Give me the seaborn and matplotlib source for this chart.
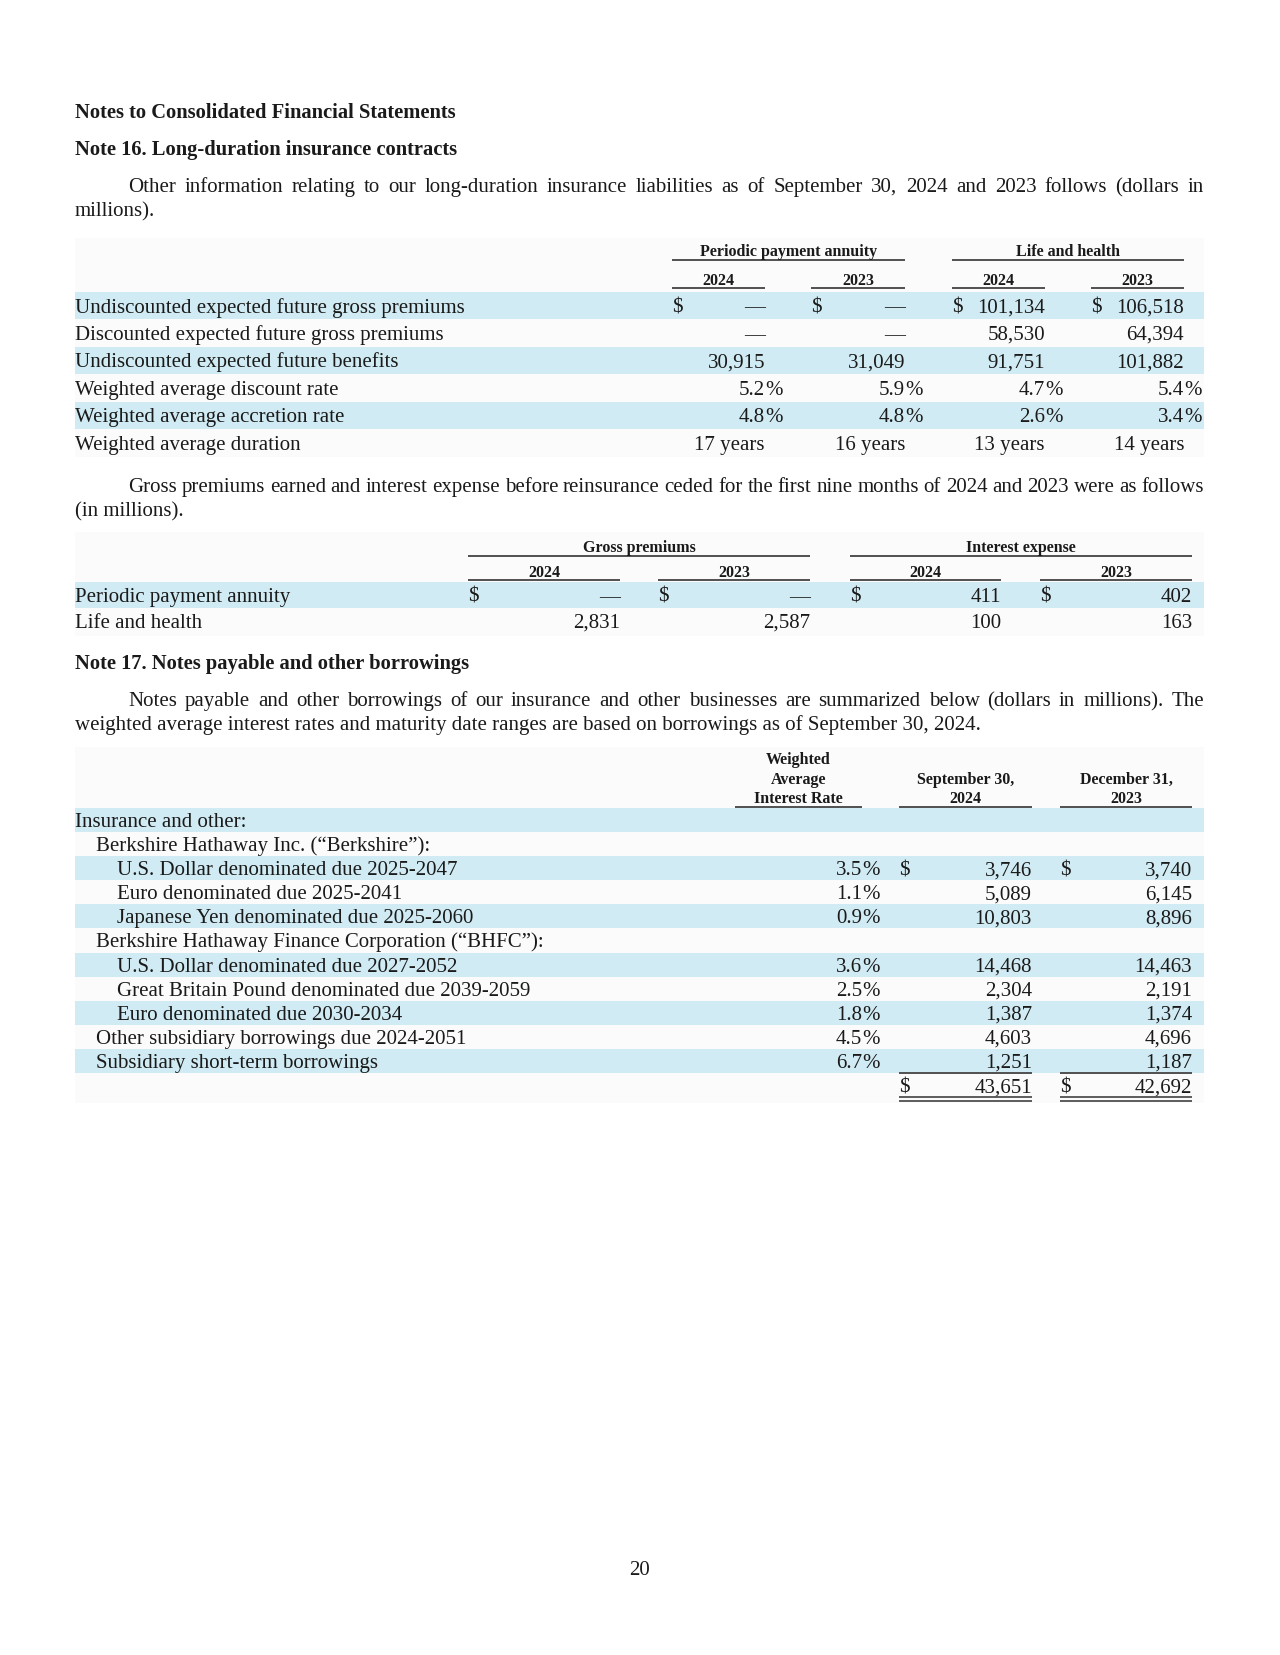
import matplotlib
matplotlib.use("Agg")
import matplotlib.pyplot as plt
import seaborn as sns

sns.set_theme(style="white")
plt.rcParams['font.family'] = ['Liberation Serif', 'DejaVu Serif']

# ---------------- data ----------------
page_title = "Notes to Consolidated Financial Statements"
note16_title = "Note 16. Long-duration insurance contracts"
para1 = ["Other information relating to our long-duration insurance liabilities as of September 30, 2024 and 2023 follows (dollars in",
         "millions)."]
t1_groups = ["Periodic payment annuity", "Life and health"]
t1_years = ["2024", "2023", "2024", "2023"]
t1_labels = ["Undiscounted expected future gross premiums",
             "Discounted expected future gross premiums",
             "Undiscounted expected future benefits",
             "Weighted average discount rate",
             "Weighted average accretion rate",
             "Weighted average duration"]
t1_ppa_2024 = ["—", "—", "30,915", "5.2%", "4.8%", "17 years"]
t1_ppa_2023 = ["—", "—", "31,049", "5.9%", "4.8%", "16 years"]
t1_lh_2024 = ["101,134", "58,530", "91,751", "4.7%", "2.6%", "13 years"]
t1_lh_2023 = ["106,518", "64,394", "101,882", "5.4%", "3.4%", "14 years"]
t1_dollar_rows = [0]

para2 = ["Gross premiums earned and interest expense before reinsurance ceded for the first nine months of 2024 and 2023 were as follows",
         "(in millions)."]
t2_groups = ["Gross premiums", "Interest expense"]
t2_years = ["2024", "2023", "2024", "2023"]
t2_labels = ["Periodic payment annuity", "Life and health"]
t2_gp_2024 = ["—", "2,831"]
t2_gp_2023 = ["—", "2,587"]
t2_ie_2024 = ["411", "100"]
t2_ie_2023 = ["402", "163"]
t2_dollar_rows = [0]

note17_title = "Note 17. Notes payable and other borrowings"
para3 = ["Notes payable and other borrowings of our insurance and other businesses are summarized below (dollars in millions). The",
         "weighted average interest rates and maturity date ranges are based on borrowings as of September 30, 2024."]
t3_headers = [["Weighted", "Average", "Interest Rate"], ["September 30,", "2024"], ["December 31,", "2023"]]
t3_labels = ["Insurance and other:",
             "Berkshire Hathaway Inc. (\u201cBerkshire\u201d):",
             "U.S. Dollar denominated due 2025-2047",
             "Euro denominated due 2025-2041",
             "Japanese Yen denominated due 2025-2060",
             "Berkshire Hathaway Finance Corporation (\u201cBHFC\u201d):",
             "U.S. Dollar denominated due 2027-2052",
             "Great Britain Pound denominated due 2039-2059",
             "Euro denominated due 2030-2034",
             "Other subsidiary borrowings due 2024-2051",
             "Subsidiary short-term borrowings",
             ""]
t3_indent = [0, 1, 2, 2, 2, 1, 2, 2, 2, 1, 1, 0]
t3_rate = ["", "", "3.5%", "1.1%", "0.9%", "", "3.6%", "2.5%", "1.8%", "4.5%", "6.7%", ""]
t3_sep2024 = ["", "", "3,746", "5,089", "10,803", "", "14,468", "2,304", "1,387", "4,603", "1,251", "43,651"]
t3_dec2023 = ["", "", "3,740", "6,145", "8,896", "", "14,463", "2,191", "1,374", "4,696", "1,187", "42,692"]
t3_dollar_rows = [2, 11]
page_number = "20"

# ---------------- styling ----------------
W, H = 1280, 1656
BAND = "#d0ebf3"
TBG = "#fbfbfb"
TXT = "#1a1a1a"
LINE = "#505050"
FS = 15.0      # body
FSB = 14.8     # bold titles
FSH = 11.5     # table headers
LEFT, RIGHT, INDENT = 75, 1204, 128

fig = plt.figure(figsize=(W / 100, H / 100), dpi=100)
ax = fig.add_axes([0, 0, 1, 1])
ax.set_xlim(0, W)
ax.set_ylim(H, 0)
ax.axis("off")
fig.patch.set_facecolor("white")
renderer = fig.canvas.get_renderer()


def txt(x, y, s, size=FS, weight="normal", ha="left", off=None):
    if off is None:
        off = size * 0.40
    ax.text(x, y + off, s, fontsize=size, fontweight=weight, ha=ha, va="baseline", color=TXT)


def width_of(s, size=FS, weight="normal"):
    t = ax.text(0, 0, s, fontsize=size, fontweight=weight)
    w = t.get_window_extent(renderer).width
    t.remove()
    return w


def justified(line, x0, x1, y, size=FS):
    words = line.split(" ")
    widths = [width_of(w, size) for w in words]
    gap = (x1 - x0 - sum(widths)) / (len(words) - 1)
    x = x0
    for w, wd in zip(words, widths):
        txt(x, y, w, size)
        x += wd + gap


def hline(x0, x1, y, lw=1.4):
    ax.plot([x0, x1], [y, y], color=LINE, lw=lw, solid_capstyle="butt")


def band(y0, y1, color=BAND):
    ax.add_patch(plt.Rectangle((LEFT, y0), RIGHT - LEFT, y1 - y0, color=color, lw=0, zorder=0))


def value(col, y, s, dollar=False):
    l, r = col
    if dollar:
        txt(l, y, "$")
    if s.endswith("%"):
        txt(r, y, s[:-1], ha="right")
        txt(r, y, "%")
    else:
        txt(r, y, s, ha="right")


# ---------------- header + note 16 ----------------
txt(LEFT, 112, page_title, FSB, "bold")
txt(LEFT, 149, note16_title, FSB, "bold")
justified(para1[0], INDENT, RIGHT, 186)
txt(LEFT, 210, para1[1])

# table 1
band(239, 458, TBG)
t1_cols = [(672, 765), (811, 905), (952, 1045), (1091, 1184)]
t1_groupspan = [(672, 905), (952, 1184)]
for g, (a, b) in zip(t1_groups, t1_groupspan):
    txt((a + b) / 2, 251, g, FSH, "bold", ha="center")
    hline(a, b, 261)
for yv, (a, b) in zip(t1_years, t1_cols):
    txt((a + b) / 2, 280, yv, FSH, "bold", ha="center")
    hline(a, b, 289)
t1_step = 27.5
t1_cols_data = [t1_ppa_2024, t1_ppa_2023, t1_lh_2024, t1_lh_2023]
for i, lab in enumerate(t1_labels):
    yc = 306.5 + i * t1_step
    if i % 2 == 0:
        band(yc - t1_step / 2, yc + t1_step / 2)
    txt(LEFT, yc, lab)
    for col, data in zip(t1_cols, t1_cols_data):
        value(col, yc, data[i], dollar=(i in t1_dollar_rows))

# ---------------- paragraph 2 + table 2 ----------------
justified(para2[0], INDENT, RIGHT, 486)
txt(LEFT, 510, para2[1])

band(533, 637, TBG)
t2_cols = [(468, 620), (658, 810), (850, 1001), (1040, 1192)]
t2_groupspan = [(468, 810), (850, 1192)]
for g, (a, b) in zip(t2_groups, t2_groupspan):
    txt((a + b) / 2, 547, g, FSH, "bold", ha="center")
    hline(a, b, 557)
for yv, (a, b) in zip(t2_years, t2_cols):
    txt((a + b) / 2, 572, yv, FSH, "bold", ha="center")
    hline(a, b, 581)
t2_cols_data = [t2_gp_2024, t2_gp_2023, t2_ie_2024, t2_ie_2023]
t2_step = 26
for i, lab in enumerate(t2_labels):
    yc = 596 + i * t2_step
    if i % 2 == 0:
        band(yc - 13, yc + 13)
    txt(LEFT, yc, lab)
    for col, data in zip(t2_cols, t2_cols_data):
        value(col, yc, data[i], dollar=(i in t2_dollar_rows))

# ---------------- note 17 ----------------
txt(LEFT, 663, note17_title, FSB, "bold")
justified(para3[0], INDENT, RIGHT, 700)
txt(LEFT, 724, para3[1])

band(748, 1104, TBG)
t3_cols = [(735, 862), (899, 1032), (1060, 1192)]
hdr_y = [759, 779, 798]
for hdr, (a, b) in zip(t3_headers, t3_cols):
    ys = hdr_y[-len(hdr):]
    for s, yy in zip(hdr, ys):
        txt((a + b) / 2, yy, s, FSH, "bold", ha="center")
    hline(a, b, 808)
t3_step = 24.1
for i, lab in enumerate(t3_labels):
    yc = 821 + i * t3_step
    if i % 2 == 0 and lab:
        band(yc - t3_step / 2, yc + t3_step / 2)
    if lab:
        txt(LEFT + 21 * t3_indent[i], yc, lab)
    if t3_rate[i]:
        value(t3_cols[0], yc, t3_rate[i])
    if t3_sep2024[i]:
        value(t3_cols[1], yc, t3_sep2024[i], dollar=(i in t3_dollar_rows))
    if t3_dec2023[i]:
        value(t3_cols[2], yc, t3_dec2023[i], dollar=(i in t3_dollar_rows))

# total lines
tot_y = 821 + 11 * t3_step
for a, b in t3_cols[1:]:
    hline(a, b, tot_y - 12.5)
    hline(a, b, tot_y + 12, lw=1.3)
    hline(a, b, tot_y + 15.5, lw=1.3)

# page number
txt(W / 2, 1569, page_number, ha="center")

fig.savefig("out.png", dpi=100, facecolor="white")
